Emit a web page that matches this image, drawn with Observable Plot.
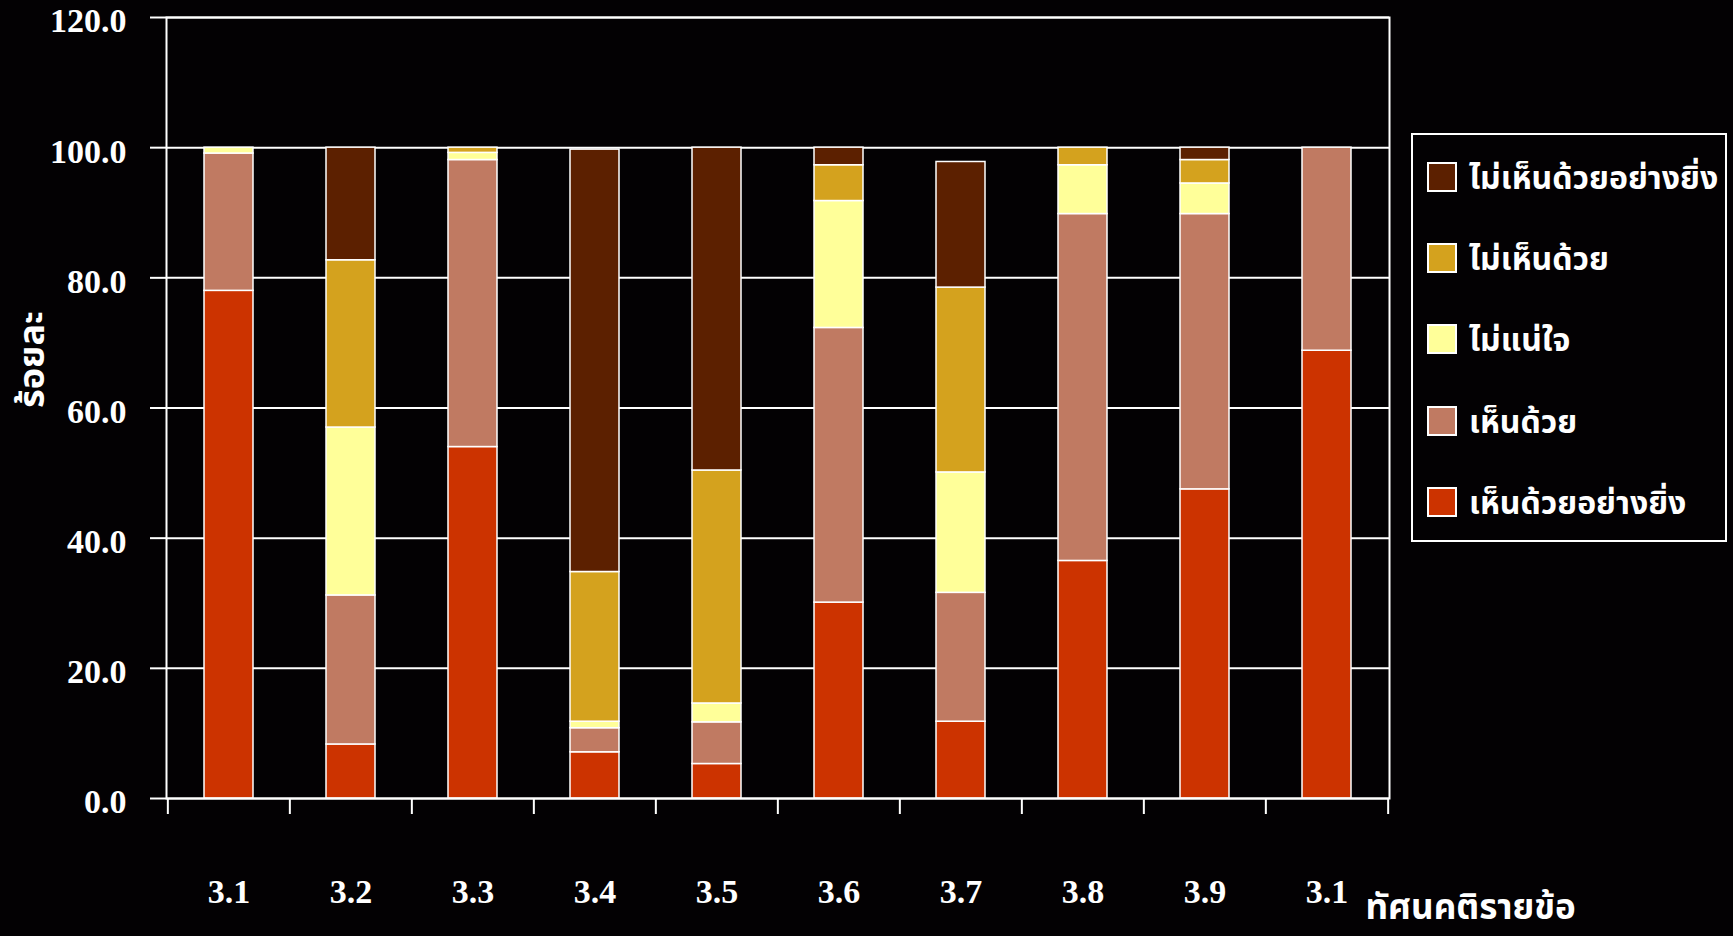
<!DOCTYPE html>
<html><head><meta charset="utf-8">
<script src="https://cdn.jsdelivr.net/npm/d3@7"></script>
<script src="https://cdn.jsdelivr.net/npm/@observablehq/plot@0.6"></script>
<style>
html,body{margin:0;padding:0;background:#030103;}
#wrap{position:relative;width:1733px;height:936px;overflow:hidden;background:#030103;}
#wrap svg{position:absolute;left:0;top:0;}
.legend{position:absolute;left:1411px;top:133px;width:316px;height:409px;border:2px solid #fff;box-sizing:border-box;padding-top:1px;}
.row{height:81.4px;display:flex;align-items:center;padding-left:14px;}
.sw{width:30px;height:30px;border:2px solid #fff;box-sizing:border-box;margin-right:12px;flex:none;}
.lt{color:#fff;font-family:'Noto Sans Thai','Noto Serif Thai',Garuda,Loma,Norasi,'Tlwg Typo',sans-serif;font-weight:bold;font-size:32px;white-space:nowrap;position:relative;top:2px;}
</style></head><body><div id="wrap"></div>
<script>
const items = ["3.1","3.2","3.3","3.4","3.5","3.6","3.7","3.8","3.9","3.10"];
const tickLabels = ["3.1","3.2","3.3","3.4","3.5","3.6","3.7","3.8","3.9","3.1"];
const seriesNames = ["เห็นด้วยอย่างยิ่ง","เห็นด้วย","ไม่แน่ใจ","ไม่เห็นด้วย","ไม่เห็นด้วยอย่างยิ่ง"];
const seriesColors = ["#cc3300","#c07a62","#ffff99","#d4a21e","#5c2000"];
const stronglyAgree    = [78.0, 8.3, 54.0, 7.1, 5.3, 30.1, 11.8, 36.5, 47.5, 68.8];
const agree            = [21.1, 22.9, 44.1, 3.7, 6.4, 42.2, 19.8, 53.3, 42.3, 31.2];
const unsure           = [0.9, 25.8, 1.1, 1.0, 2.9, 19.5, 18.5, 7.5, 4.7, 0];
const disagree         = [0, 25.7, 0.8, 23.0, 35.8, 5.5, 28.4, 2.7, 3.6, 0];
const stronglyDisagree = [0, 17.3, 0, 64.9, 49.6, 2.7, 19.3, 0, 1.9, 0];
const yTicks = [0, 20, 40, 60, 80, 100, 120];
const yTitle = "ร้อยละ";
const xTitle = "ทัศนคติรายข้อ";

const seriesValues = [stronglyAgree, agree, unsure, disagree, stronglyDisagree];
const table = [];
seriesNames.forEach((s, si) => items.forEach((it, i) => {
  const v = seriesValues[si][i];
  if (v > 0) table.push({item: it, series: s, value: v});
}));

const W = 1733, H = 936, ML = 166, MR = 344, MT = 17, MB = 138;
const step = (W - ML - MR) / items.length;
const thai = "'Noto Sans Thai','Noto Serif Thai',Garuda,Loma,Norasi,'Tlwg Typo',sans-serif";

const chart = Plot.plot({
  width: W, height: H,
  marginLeft: ML, marginRight: MR, marginTop: MT, marginBottom: MB,
  style: {background: "transparent", color: "white", fontFamily: "'Liberation Serif','Times New Roman',serif", fontWeight: "bold", fontSize: "34px", overflow: "visible"},
  x: {domain: items, paddingInner: 0.6, paddingOuter: 0.3, label: null},
  y: {domain: [0, 120], label: null},
  color: {domain: seriesNames, range: seriesColors},
  marks: [
    Plot.ruleY(yTicks, {stroke: "white", strokeWidth: 2}),
    Plot.barY(table, {x: "item", y: "value", fill: "series", order: seriesNames, stroke: "white", strokeWidth: 1.5}),
    Plot.frame({stroke: "white", strokeWidth: 2}),
    Plot.axisY({ticks: yTicks, tickSize: 16, tickPadding: 24, tickFormat: d3.format(".1f"), strokeWidth: 2, label: null, text: null}),
    Plot.axisY({ticks: yTicks, tickSize: 0, tickPadding: 40, tickFormat: d3.format(".1f"), dy: 4, label: null}),
    Plot.axisX({tickSize: 0, tickPadding: 80, tickFormat: d => tickLabels[items.indexOf(d)], label: null}),
    Plot.axisX({tickSize: 16, dx: -step / 2, strokeWidth: 2, tickFormat: () => "", label: null}),
    Plot.axisX([items[items.length - 1]], {tickSize: 16, dx: step / 2, strokeWidth: 2, tickFormat: () => "", label: null}),
    Plot.text([yTitle], {frameAnchor: "left", rotate: -90, dx: -134, dy: 0, fill: "white", fontFamily: thai, fontSize: 36, fontWeight: "bold"}),
    Plot.text([xTitle], {frameAnchor: "bottom-right", textAnchor: "start", dx: -24, dy: 120, fill: "white", fontFamily: thai, fontSize: 35, fontWeight: "bold"})
  ]
});
const wrap = document.getElementById("wrap");
wrap.appendChild(chart);

const legend = document.createElement("div");
legend.className = "legend";
seriesNames.slice().reverse().forEach(name => {
  const row = document.createElement("div");
  row.className = "row";
  const sw = document.createElement("div");
  sw.className = "sw";
  sw.style.background = seriesColors[seriesNames.indexOf(name)];
  const t = document.createElement("span");
  t.className = "lt";
  t.textContent = name;
  row.appendChild(sw); row.appendChild(t);
  legend.appendChild(row);
});
wrap.appendChild(legend);
</script>
</body></html>
